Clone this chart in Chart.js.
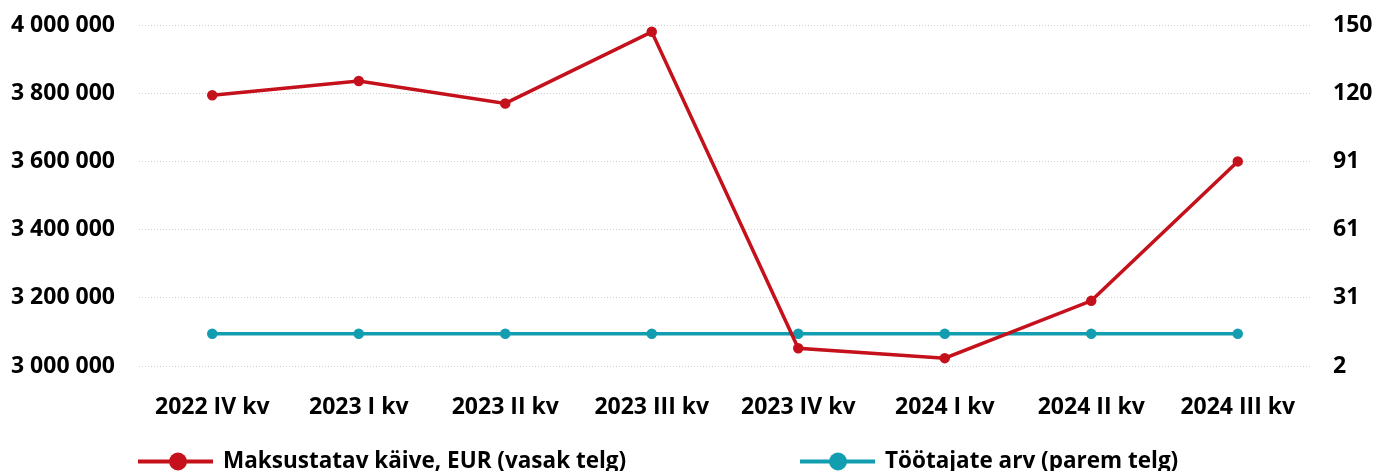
<!DOCTYPE html>
<html>
<head>
<meta charset="utf-8">
<script src="https://cdn.jsdelivr.net/npm/chart.js@4.4.1/dist/chart.umd.min.js"></script>
<style>
    html, body { margin: 0; padding: 0; background: #fff; }
</style>
</head>
<body>
<canvas id="myChart" width="1378" height="471"></canvas>
<script>
const quarters = ['2022 IV kv', '2023 I kv', '2023 II kv', '2023 III kv', '2023 IV kv', '2024 I kv', '2024 II kv', '2024 III kv'];
const turnover = [3794000, 3836000, 3770000, 3980000, 3052000, 3023000, 3191000, 3600000];
const employees = [16, 16, 16, 16, 16, 16, 16, 16];
const rightTickLabels = ['2', '31', '61', '91', '120', '150'];
const rightMin = 2;
const rightMax = 150;

const RED = '#C4111B';
const TEAL = '#129DB0';
const FONT = '"Open Sans"';
const WEIGHT = 'bold';

function spaced(value) {
    return String(value).replace(/\B(?=(\d{3})+(?!\d))/g, ' ');
}

// legend drawn as line + dot, like the series markers
const lineLegend = {
    id: 'lineLegend',
    afterDraw(chart, args, opts) {
        const ctx = chart.ctx;
        ctx.save();
        chart.data.datasets.forEach((ds, i) => {
            const item = opts.items[i];
            const y = opts.y;
            ctx.strokeStyle = ds.borderColor;
            ctx.lineWidth = 4;
            ctx.beginPath();
            ctx.moveTo(item.x, y);
            ctx.lineTo(item.x + item.w, y);
            ctx.stroke();
            ctx.fillStyle = ds.borderColor;
            ctx.beginPath();
            ctx.arc(item.dot, y, 9, 0, Math.PI * 2);
            ctx.fill();
            ctx.fillStyle = '#000';
            ctx.font = WEIGHT + ' 22.5px ' + FONT;
            ctx.textBaseline = 'middle';
            ctx.textAlign = 'left';
            ctx.fillText(ds.label, item.x + item.w + 10, y);
        });
        ctx.restore();
    }
};

const tickFont = { family: FONT, size: 23, weight: WEIGHT };

// keep the tick padding from pushing the plot area inwards
function noEdgePadding(scale) {
    scale.paddingTop = 0;
    scale.paddingBottom = 0;
}

new Chart(document.getElementById('myChart').getContext('2d'), {
    type: 'line',
    data: {
        labels: quarters,
        datasets: [{
            label: 'Maksustatav käive, EUR (vasak telg)',
            data: turnover,
            yAxisID: 'y',
            borderColor: RED,
            backgroundColor: RED,
            borderWidth: 3.5,
            pointRadius: 3.5,
            tension: 0
        }, {
            label: 'Töötajate arv (parem telg)',
            data: employees,
            yAxisID: 'y1',
            borderColor: TEAL,
            backgroundColor: TEAL,
            borderWidth: 3.5,
            pointRadius: 3.5,
            tension: 0
        }]
    },
    options: {
        responsive: false,
        animation: false,
        layout: {
            padding: { top: 25, bottom: 0, left: 0, right: 0 }
        },
        plugins: {
            legend: { display: false },
            tooltip: { enabled: false },
            lineLegend: {
                y: 461.5,
                items: [{ x: 138, w: 75, dot: 178 }, { x: 800, w: 75, dot: 838 }]
            }
        },
        scales: {
            x: {
                offset: true,
                grid: { display: false, drawTicks: false },
                border: { display: false },
                ticks: {
                    color: '#000',
                    padding: 28,
                    maxRotation: 0,
                    font: tickFont
                },
                afterFit(scale) { scale.height = 105; }
            },
            y: {
                position: 'left',
                min: 3000000,
                max: 4000000,
                grid: {
                    color: '#cfcfcf',
                    lineWidth: 1,
                    drawTicks: false
                },
                border: { display: false, dash: [1, 2] },
                ticks: {
                    stepSize: 200000,
                    color: '#000',
                    padding: 24,
                    font: tickFont,
                    callback: (value) => spaced(value)
                },
                afterFit(scale) {
                    scale.width = 139;
                    noEdgePadding(scale);
                }
            },
            y1: {
                position: 'right',
                min: rightMin,
                max: rightMax,
                grid: { display: false, drawTicks: false },
                border: { display: false },
                ticks: {
                    color: '#000',
                    padding: 22,
                    font: tickFont,
                    callback: (value, index) => rightTickLabels[index]
                },
                afterBuildTicks(scale) {
                    const step = (rightMax - rightMin) / (rightTickLabels.length - 1);
                    scale.ticks = rightTickLabels.map((t, i) => ({ value: rightMin + i * step }));
                },
                afterFit(scale) {
                    scale.width = 67;
                    noEdgePadding(scale);
                }
            }
        }
    },
    plugins: [lineLegend]
});
</script>
</body>
</html>
